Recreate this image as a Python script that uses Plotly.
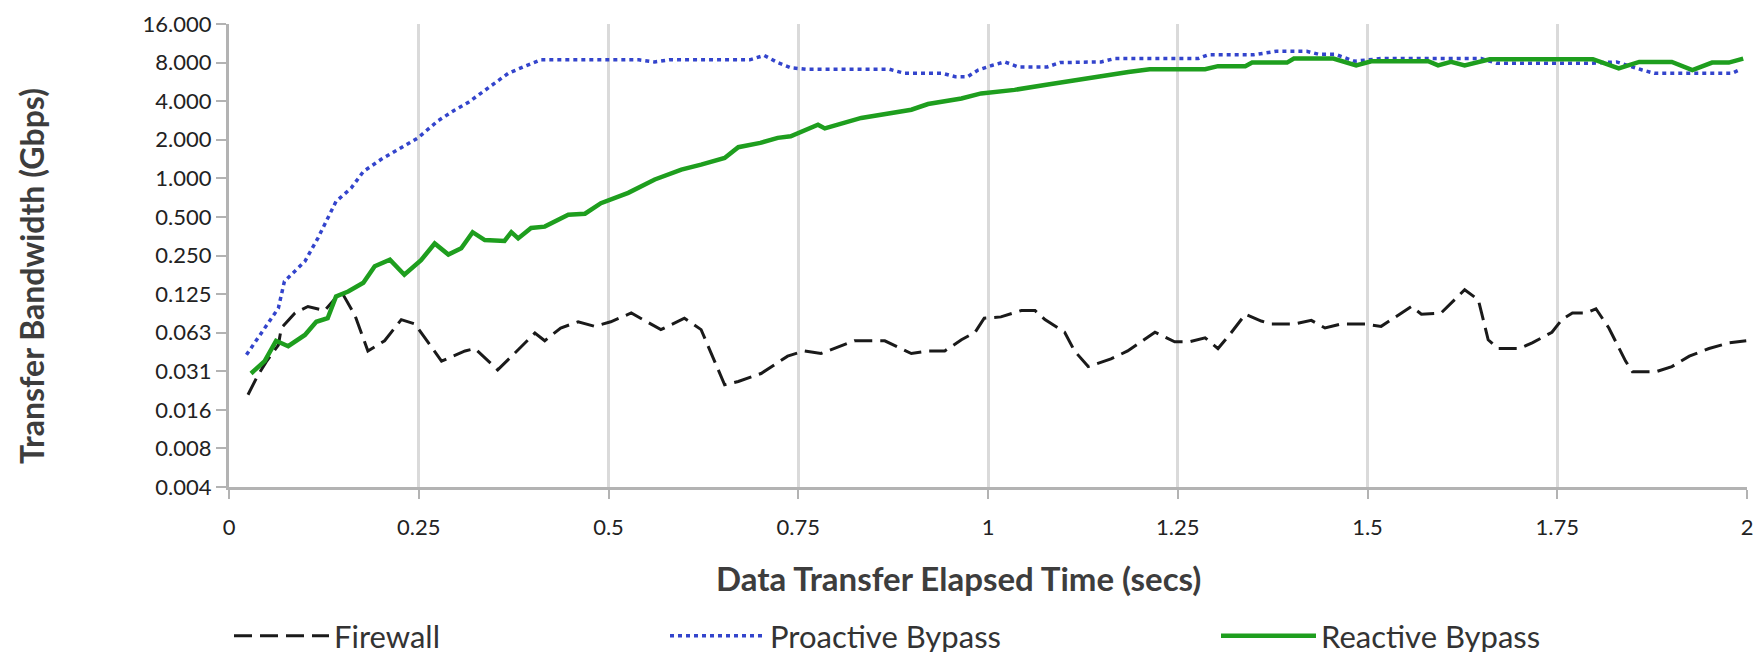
import math
import plotly.graph_objects as go

# ---------------- data ----------------
firewall_t = [0.025, 0.038, 0.049, 0.065, 0.069, 0.087, 0.104, 0.126, 0.148, 0.166,
              0.183, 0.205, 0.227, 0.245, 0.280, 0.311, 0.324, 0.354, 0.381, 0.403,
              0.416, 0.437, 0.460, 0.482, 0.503, 0.530, 0.569, 0.600, 0.622, 0.640,
              0.653, 0.671, 0.701, 0.736, 0.758, 0.780, 0.802, 0.824, 0.864, 0.899,
              0.921, 0.943, 0.965, 0.983, 0.995, 1.017, 1.044, 1.062, 1.075, 1.101,
              1.114, 1.132, 1.162, 1.184, 1.220, 1.246, 1.265, 1.286, 1.303, 1.320,
              1.339, 1.360, 1.373, 1.404, 1.426, 1.444, 1.465, 1.497, 1.518, 1.558,
              1.571, 1.597, 1.628, 1.646, 1.659, 1.672, 1.700, 1.717, 1.743, 1.756,
              1.770, 1.788, 1.801, 1.818, 1.840, 1.849, 1.880, 1.901, 1.924, 1.950,
              1.976, 1.999]
firewall_v = [0.0205, 0.029, 0.037, 0.050, 0.068, 0.089, 0.100, 0.093, 0.131, 0.085,
              0.045, 0.054, 0.079, 0.073, 0.0375, 0.045, 0.047, 0.032, 0.046, 0.062,
              0.054, 0.068, 0.076, 0.070, 0.076, 0.089, 0.066, 0.081, 0.066, 0.0375,
              0.0245, 0.026, 0.030, 0.041, 0.045, 0.043, 0.048, 0.054, 0.054, 0.043,
              0.045, 0.045, 0.055, 0.063, 0.081, 0.083, 0.093, 0.093, 0.079, 0.063,
              0.045, 0.034, 0.039, 0.045, 0.063, 0.053, 0.053, 0.057, 0.047, 0.062,
              0.087, 0.077, 0.073, 0.073, 0.078, 0.068, 0.073, 0.073, 0.070, 0.100,
              0.087, 0.089, 0.135, 0.113, 0.055, 0.047, 0.047, 0.052, 0.063, 0.079,
              0.089, 0.089, 0.096, 0.068, 0.0375, 0.031, 0.031, 0.034, 0.041, 0.047,
              0.052, 0.054]

proactive_t = [0.023, 0.065, 0.073, 0.100, 0.117, 0.133, 0.141, 0.161, 0.177, 0.200,
               0.227, 0.249, 0.275, 0.297, 0.315, 0.341, 0.368, 0.390, 0.411, 0.540,
               0.561, 0.580, 0.686, 0.705, 0.723, 0.740, 0.760, 0.870, 0.890, 0.940,
               0.957, 0.973, 0.987, 1.005, 1.022, 1.040, 1.078, 1.095, 1.149, 1.167,
               1.277, 1.290, 1.350, 1.380, 1.420, 1.435, 1.457, 1.483, 1.518, 1.650,
               1.670, 1.795, 1.828, 1.862, 1.878, 1.980, 1.992]
proactive_v = [0.042, 0.097, 0.157, 0.225, 0.34, 0.52, 0.66, 0.84, 1.13, 1.4,
               1.73, 2.07, 2.8, 3.4, 3.9, 5.06, 6.6, 7.5, 8.4, 8.4,
               8.1, 8.4, 8.4, 9.1, 8.0, 7.3, 7.1, 7.1, 6.6, 6.6,
               6.2, 6.2, 7.0, 7.6, 8.1, 7.4, 7.4, 8.0, 8.1, 8.6,
               8.6, 9.2, 9.2, 9.8, 9.8, 9.3, 9.3, 8.2, 8.6, 8.6,
               7.9, 7.9, 8.1, 7.0, 6.6, 6.6, 7.1]

reactive_t = [0.029, 0.047, 0.062, 0.078, 0.100, 0.115, 0.130, 0.141, 0.157, 0.177,
              0.192, 0.212, 0.231, 0.253, 0.271, 0.289, 0.306, 0.321, 0.337, 0.363,
              0.372, 0.381, 0.398, 0.416, 0.447, 0.469, 0.490, 0.526, 0.561, 0.596,
              0.622, 0.653, 0.671, 0.700, 0.723, 0.740, 0.776, 0.785, 0.833, 0.899,
              0.921, 0.965, 0.991, 1.035, 1.079, 1.130, 1.185, 1.213, 1.286, 1.303,
              1.339, 1.348, 1.394, 1.403, 1.455, 1.485, 1.505, 1.580, 1.593, 1.610,
              1.628, 1.661, 1.797, 1.831, 1.858, 1.901, 1.928, 1.954, 1.976, 1.995]
reactive_v = [0.030, 0.0375, 0.054, 0.049, 0.060, 0.076, 0.081, 0.12, 0.131, 0.153,
              0.206, 0.232, 0.177, 0.23, 0.31, 0.254, 0.285, 0.38, 0.33, 0.325,
              0.38, 0.34, 0.41, 0.42, 0.52, 0.53, 0.64, 0.77, 0.98, 1.17,
              1.28, 1.44, 1.75, 1.89, 2.07, 2.13, 2.62, 2.45, 2.96, 3.43,
              3.8, 4.2, 4.6, 4.9, 5.4, 6.06, 6.75, 7.1, 7.1, 7.5,
              7.5, 8.0, 8.0, 8.6, 8.6, 7.6, 8.2, 8.2, 7.6, 8.1,
              7.6, 8.5, 8.5, 7.2, 8.1, 8.1, 7.0, 8.0, 8.0, 8.6]

x_tick_vals = [0, 0.25, 0.5, 0.75, 1, 1.25, 1.5, 1.75, 2]
x_tick_text = ["0", "0.25", "0.5", "0.75", "1", "1.25", "1.5", "1.75", "2"]
y_tick_vals = [2.0 ** k for k in range(-8, 5)]
y_tick_text = ["0.004", "0.008", "0.016", "0.031", "0.063", "0.125", "0.250",
               "0.500", "1.000", "2.000", "4.000", "8.000", "16.000"]

x_title = "Data Transfer Elapsed Time (secs)"
y_title = "Transfer Bandwidth (Gbps)"

# ---------------- figure ----------------
FONT = "Lato"
W, H = 1761, 652
L, R, T, B = 221, 22, 16, 173
PW, PH = W - L - R, H - T - B

fig = go.Figure()
fig.add_trace(go.Scatter(x=firewall_t, y=firewall_v, mode="lines", name="Firewall",
                         line=dict(color="#1a1a1a", width=3, dash="18px,8px"),
                         legend="legend"))
fig.add_trace(go.Scatter(x=proactive_t, y=proactive_v, mode="lines", name="Proactive Bypass",
                         line=dict(color="#3344cc", width=3.5, dash="4px,4px"),
                         legend="legend2"))
fig.add_trace(go.Scatter(x=reactive_t, y=reactive_v, mode="lines", name="Reactive Bypass",
                         line=dict(color="#1e9e1e", width=4.5),
                         legend="legend3"))

leg_y = (H - 628) / H
leg_common = dict(orientation="h", xref="container", yref="container",
                  yanchor="middle", xanchor="left", itemwidth=95,
                  bgcolor="rgba(0,0,0,0)", borderwidth=0,
                  font=dict(family=FONT, size=31, color="#333333"))

fig.update_layout(
    width=W, height=H,
    showlegend=True,
    margin=dict(l=L, r=R, t=T, b=B, autoexpand=False),
    paper_bgcolor="white", plot_bgcolor="white",
    font=dict(family=FONT, color="#222222"),
    legend=dict(x=221 / W, y=leg_y, **leg_common),
    legend2=dict(x=657 / W, y=leg_y, **leg_common),
    legend3=dict(x=1208 / W, y=leg_y, **leg_common),
    xaxis=dict(range=[0, 2], tickvals=x_tick_vals, ticktext=x_tick_text,
               showgrid=True, gridcolor="#dadada", gridwidth=3,
               showline=True, linecolor="#b3b3b3", linewidth=3,
               ticks="outside", ticklen=9, tickwidth=2, tickcolor="#b3b3b3",
               tickfont=dict(family=FONT, size=22, color="#222222"),
               ticklabelstandoff=10, zeroline=False),
    yaxis=dict(type="log", range=[math.log10(2.0 ** -8), math.log10(16)],
               tickvals=y_tick_vals, ticktext=y_tick_text,
               showgrid=False, showline=True, linecolor="#b3b3b3", linewidth=3,
               ticks="outside", ticklen=10, tickwidth=2, tickcolor="#b3b3b3",
               tickfont=dict(family=FONT, size=22, color="#222222"),
               zeroline=False),
    annotations=[
        dict(text=y_title, textangle=-90, showarrow=False,
             xref="paper", yref="paper", xanchor="center", yanchor="middle",
             x=(23 - L) / PW, y=(H - B - 268) / PH,
             font=dict(family=FONT, size=32, color="#3d3d3d", weight="bold")),
        dict(text=x_title, showarrow=False,
             xref="paper", yref="paper", xanchor="center", yanchor="middle",
             x=(950 - L) / PW, y=(H - B - 570) / PH,
             font=dict(family=FONT, size=33, color="#3d3d3d", weight="bold")),
    ],
)

fig.write_html("out.html")
